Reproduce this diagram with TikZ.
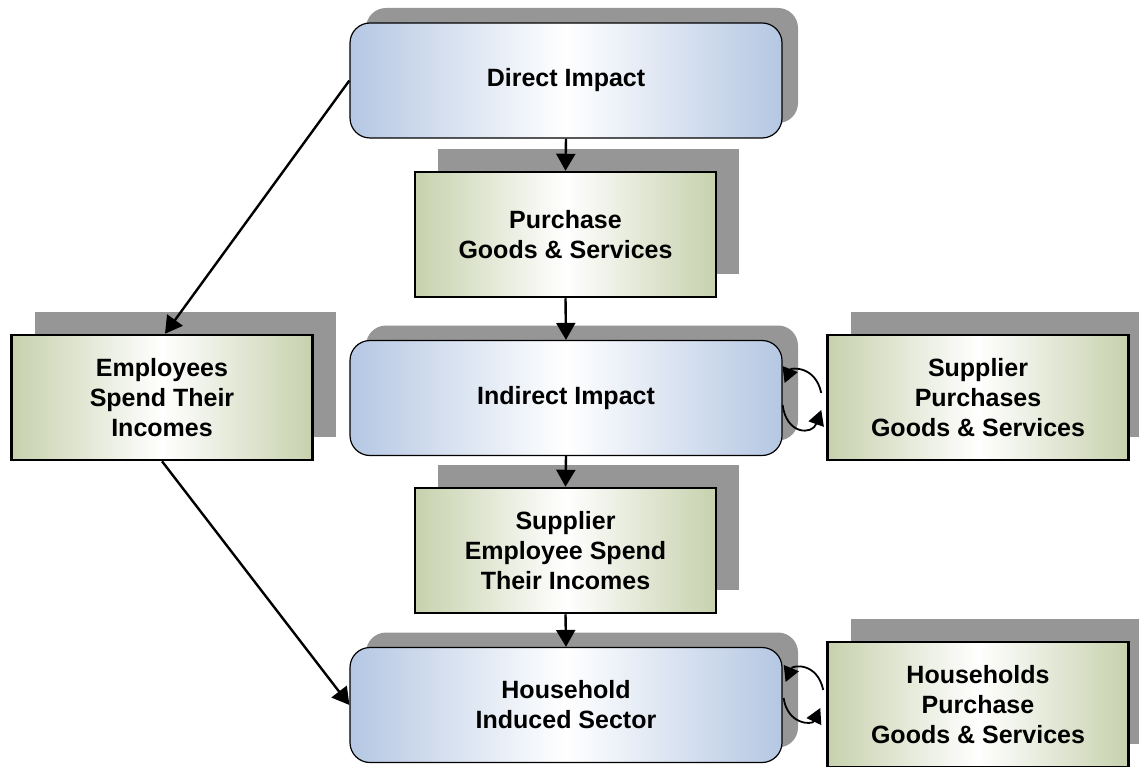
\documentclass[tikz,border=0pt]{standalone}
\usepackage{fontspec}
\setmainfont{Liberation Sans}
\usetikzlibrary{shadows,calc,arrows.meta}
\definecolor{bluec}{HTML}{B5C7E3}
\definecolor{greenc}{HTML}{C7D1AD}
\definecolor{shadowc}{HTML}{969696}
\begin{document}
\begin{tikzpicture}[x=1pt,y=-1pt,
  every node/.style={font=\fontsize{25}{30}\selectfont\bfseries, align=center, inner sep=0pt},
  roundbox/.style={draw=black, line width=1.2pt, rounded corners=20pt,
    minimum width=432pt, minimum height=115pt,
    left color=bluec, right color=bluec, middle color=white,
    general shadow={shadow xshift=16pt, shadow yshift=15pt, fill=shadowc}},
  rectbox/.style={draw=black, line width=2.5pt,
    minimum width=301pt, minimum height=125pt,
    left color=greenc, right color=greenc, middle color=white,
    general shadow={shadow xshift=23pt, shadow yshift=23pt, fill=shadowc}},
  conn/.style={line width=2.4pt, -{Triangle[length=17pt,width=19pt]}},
  loop/.style={line width=1.8pt, -{Triangle[length=15pt,width=16pt]}}
]
\useasboundingbox (0,0) rectangle (1139,767);
\node[roundbox] (direct) at (566,80.5) {Direct Impact};
\node[rectbox] (purchase) at (565.5,234.5) {Purchase\\Goods \& Services};
\node[roundbox] (indirect) at (566,398) {Indirect Impact};
\node[rectbox] (suppemp) at (565.5,550.5) {Supplier\\Employee Spend\\Their Incomes};
\node[roundbox] (household) at (566,705) {Household\\Induced Sector};
\node[rectbox] (employees) at (162,397.5) {Employees\\Spend Their\\Incomes};
\node[rectbox] (supppur) at (978,397.5) {Supplier\\Purchases\\Goods \& Services};
\node[rectbox] (hhpur) at (978,704.5) {Households\\Purchase\\Goods \& Services};

\draw[conn] (direct.south) -- (purchase.north);
\draw[conn] (purchase.south) -- (indirect.north);
\draw[conn] (indirect.south) -- (suppemp.north);
\draw[conn] (suppemp.south) -- (household.north);
\draw[conn] (direct.west) -- ($(employees.north)+(3,0)$);
\draw[conn] (employees.south) -- (household.west);

\draw[loop] ($(supppur.west)+(-5,-4.5)$) .. controls +(-6,-28) and +(6,-15) .. ($(indirect.east)+(2,-15)$);
\draw[loop] ($(indirect.east)+(0,7)$) .. controls +(4,30) and +(-9,25) .. ($(supppur.west)+(-5,12.5)$);
\draw[loop] ($(hhpur.west)+(-3,-14.5)$) .. controls +(-6,-28) and +(7,-17) .. ($(household.east)+(3,-23)$);
\draw[loop] ($(household.east)+(1,-7)$) .. controls +(4,27) and +(-8,17) .. ($(hhpur.west)+(-6,3.5)$);
\end{tikzpicture}
\end{document}
